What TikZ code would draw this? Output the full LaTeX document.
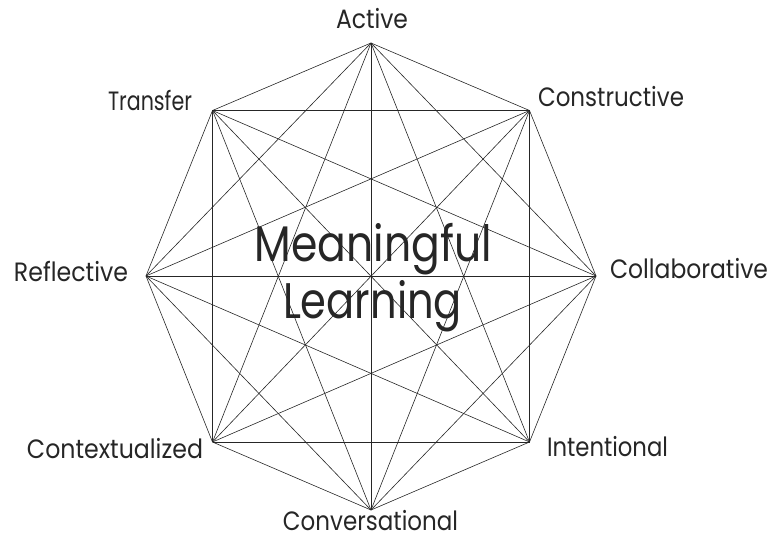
\documentclass[tikz,border=0pt]{standalone}
\usepackage{fontspec}
\usepackage{graphicx}
\setmainfont{Poppins}
\newcommand{\fitw}[2]{\resizebox{#1}{\height}{#2}}
\begin{document}
\begin{tikzpicture}[x=1pt,y=-1pt,
  edge/.style={line width=0.6pt,draw=black!85},
  lbl/.style={inner sep=0pt,anchor=base,text=black!85,font=\fontsize{26.5}{30}\selectfont},
  big/.style={inner sep=0pt,anchor=base,text=black!85,font=\fontsize{50}{56}\selectfont}]
\useasboundingbox (0,0) rectangle (771,537);
\coordinate (v1) at (371,43);
\coordinate (v2) at (529.5,110.5);
\coordinate (v3) at (596,276);
\coordinate (v4) at (529.5,442);
\coordinate (v5) at (371,510);
\coordinate (v6) at (212.5,442);
\coordinate (v7) at (146,276);
\coordinate (v8) at (212.5,110.5);
\foreach \i in {1,...,7}{
  \pgfmathtruncatemacro\k{\i+1}
  \foreach \j in {\k,...,8}{\draw[edge] (v\i) -- (v\j);}
}
\node[lbl] (active) at (372,29) {\fitw{72pt}{Active}};
\node[lbl] (constructive) at (611,107) {\fitw{146pt}{Constructive}};
\node[lbl] (collaborative) at (689,279) {\fitw{158pt}{Collaborative}};
\node[lbl] (intentional) at (607.5,456) {\fitw{121pt}{Intentional}};
\node[lbl] (conversational) at (370.5,530) {\fitw{175pt}{Conversational}};
\node[lbl] (contextualized) at (115,458) {\fitw{176pt}{Contextualized}};
\node[lbl] (reflective) at (71,282) {\fitw{114pt}{Reflective}};
\node[lbl] (transfer) at (150,111) {\fitw{84pt}{Transfer}};
\node[big] (meaningful) at (373.5,262) {\fitw{237pt}{Meaningful}};
\node[big] (learning) at (372.5,319) {\fitw{179pt}{Learning}};
\end{tikzpicture}
\end{document}
